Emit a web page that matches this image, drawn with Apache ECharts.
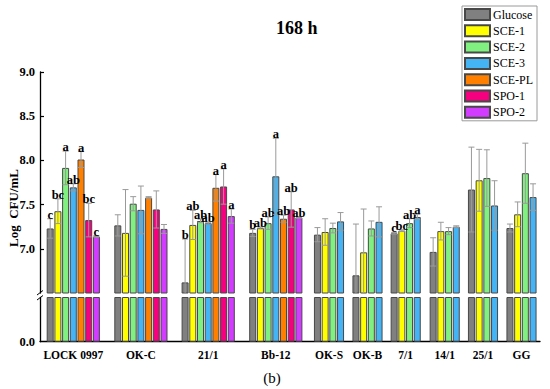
<!DOCTYPE html>
<html><head><meta charset="utf-8">
<script src="https://cdn.jsdelivr.net/npm/echarts@6/dist/echarts.min.js"></script>
<style>html,body{margin:0;padding:0;background:#fff}#c{width:550px;height:389px}</style>
</head><body><div id="c"></div>
<script>
// ---------- DATA ----------
const categories = ['LOCK 0997','OK-C','21/1','Bb-12','OK-S','OK-B','7/1','14/1','25/1','GG'];
const seriesNames = ['Glucose','SCE-1','SCE-2','SCE-3','SCE-PL','SPO-1','SPO-2'];

const glucose   = [7.23, 7.265, 6.62, 7.18, 7.16, 6.70, 7.175, 6.965, 7.67, 7.235];
const sce1      = [7.425, 7.18, 7.27, 7.235, 7.19, 6.96, 7.205, 7.20, 7.775, 7.39];
const sce2      = [7.915, 7.51, 7.315, 7.29, 7.235, 7.23, 7.29, 7.20, 7.80, 7.855];
const sce3      = [7.695, 7.44, 7.29, 7.82, 7.31, 7.305, 7.36, 7.25, 7.49, 7.585];
const scePL     = [8.01, 7.58, 7.69, 7.34, null, null, null, null, null, null];
const spo1      = [7.325, 7.445, 7.705, 7.445, null, null, null, null, null, null];
const spo2      = [7.14, 7.225, 7.37, 7.355, null, null, null, null, null, null];

const glucoseSd = [0.11, 0.12, 0.49, 0.04, 0.08, 0.58, 0.01, 0.16, 0.48, 0.045];
const sce1Sd    = [0.14, 0.49, 0.165, 0.01, 0.15, 0.49, 0.01, 0.10, 0.35, 0.14];
const sce2Sd    = [0.19, 0.08, 0.02, 0.07, 0.055, 0.085, 0.05, 0.04, 0.32, 0.34];
const sce3Sd    = [0.04, 0.27, 0.01, 0.43, 0.10, 0.17, 0.03, 0.01, 0.28, 0.15];
const scePLSd   = [0.09, 0.01, 0.15, 0.04, null, null, null, null, null, null];
const spo1Sd    = [0.19, 0.21, 0.20, 0.20, null, null, null, null, null, null];
const spo2Sd    = [0.01, 0.05, 0.08, 0.01, null, null, null, null, null, null];

const glucoseLetters = ['c','','b','b','','','c','','',''];
const sce1Letters    = ['bc','','ab','ab','','','bc','','',''];
const sce2Letters    = ['a','','ab','ab','','','ab','','',''];
const sce3Letters    = ['ab','','ab','a','','','a','','',''];
const scePLLetters   = ['a','','a','ab','','','','','',''];
const spo1Letters    = ['bc','','a','ab','','','','','',''];
const spo2Letters    = ['c','','a','ab','','','','','',''];

const upperTicks = [7.0, 7.5, 8.0, 8.5, 9.0];
const lowerTicks = [0.0];

// ---------- LAYOUT / STYLE ----------
const means = [glucose, sce1, sce2, sce3, scePL, spo1, spo2];
const sds = [glucoseSd, sce1Sd, sce2Sd, sce3Sd, scePLSd, spo1Sd, spo2Sd];
const letters = [glucoseLetters, sce1Letters, sce2Letters, sce3Letters, scePLLetters, spo1Letters, spo2Letters];
const colors = ['#808080','#ffff00','#80f080','#45b4f5','#ff8000','#f5007f','#d23cff'];
const GROUP_CENTER = [33.3, 100.9, 168.2, 235.8, 289, 327.5, 365.7, 404.7, 443, 481.5];
const BAR_PITCH = 7.7, BAR_W = 7;
const FONT = '"Liberation Serif", "Times New Roman", serif';

function barX(s, g) {
  const present = [];
  for (let k = 0; k < means.length; k++) if (means[k][g] != null) present.push(k);
  const rank = present.indexOf(s), n = present.length;
  return GROUP_CENTER[g] + (rank - (n - 1) / 2) * BAR_PITCH;
}

const series = [];
const errData = [], errLetters = [];
for (let s = 0; s < seriesNames.length; s++) {
  const d = [];
  for (let g = 0; g < categories.length; g++) {
    if (means[s][g] == null) continue;
    const x = barX(s, g);
    d.push([x, means[s][g]]);
    errData.push([x, means[s][g], sds[s][g]]);
    errLetters.push(letters[s][g]);
  }
  const style = { color: colors[s], borderColor: '#484848', borderWidth: 1 };
  series.push({ type: 'bar', name: seriesNames[s], xAxisIndex: 0, yAxisIndex: 0, barWidth: BAR_W, barGap: '-100%', clip: true, itemStyle: style, data: d, z: 2 });
  series.push({ type: 'bar', name: seriesNames[s], xAxisIndex: 1, yAxisIndex: 1, barWidth: BAR_W, barGap: '-100%', clip: true, itemStyle: style, data: d, z: 2 });
}
series.push({
  type: 'custom', xAxisIndex: 0, yAxisIndex: 0, clip: true, z: 5, data: errData,
  renderItem: function (params, api) {
    const x = api.value(0), m = api.value(1), sd = api.value(2);
    const t = api.coord([x, m + sd]), b = api.coord([x, m - sd]);
    const cw = 3, st = { stroke: '#9a9a9a', lineWidth: 1 };
    const ch = [
      { type: 'line', shape: { x1: t[0], y1: t[1], x2: b[0], y2: b[1] }, style: st },
      { type: 'line', shape: { x1: t[0] - cw, y1: t[1], x2: t[0] + cw, y2: t[1] }, style: st },
      { type: 'line', shape: { x1: b[0] - cw, y1: b[1], x2: b[0] + cw, y2: b[1] }, style: st }
    ];
    const L = errLetters[params.dataIndex];
    if (L) ch.push({ type: 'text', x: t[0], y: t[1] + 2.5, style: { text: L, textAlign: 'center', textVerticalAlign: 'bottom', font: 'bold 12.5px ' + FONT, fill: '#000' } });
    return { type: 'group', children: ch };
  }
});

const chart = echarts.init(document.getElementById('c'), null, { renderer: 'svg' });
chart.setOption({
  animation: false,
  backgroundColor: '#fff',
  title: { text: '168 h', left: 276, top: 19, padding: 0, textStyle: { fontFamily: FONT, fontWeight: 'bold', fontSize: 18, color: '#000' } },
  legend: {
    data: seriesNames, orient: 'vertical', left: 462, top: 6, icon: 'rect',
    itemWidth: 25, itemHeight: 11, itemGap: 3.3, padding: [2, 4, 2, 2],
    borderColor: '#9a9a9a', borderWidth: 1,
    textStyle: { fontFamily: FONT, fontSize: 12, color: '#000', padding: [0, 0, 0, -2] }
  },
  grid: [
    { left: 40, right: 10, top: 72, height: 221 },
    { left: 40, right: 10, top: 297.5, height: 44.2 }
  ],
  xAxis: [
    { gridIndex: 0, type: 'value', min: 0, max: 500, show: false },
    { gridIndex: 1, type: 'value', min: 0, max: 500,
      axisLine: { lineStyle: { color: '#000', width: 1.3 } }, axisTick: { show: false }, splitLine: { show: false },
      axisLabel: { customValues: GROUP_CENTER, formatter: v => categories[GROUP_CENTER.indexOf(v)] || '', fontFamily: FONT, fontWeight: 'bold', fontSize: 11.5, color: '#000', margin: 7 } }
  ],
  yAxis: [
    { gridIndex: 0, type: 'value', min: 6.5, max: 9, interval: 0.5, splitLine: { show: false },
      axisLine: { show: true, lineStyle: { color: '#000', width: 1.3 } },
      axisTick: { show: true, inside: true, length: 4, customValues: upperTicks, lineStyle: { color: '#000', width: 1.2 } },
      axisLabel: { customValues: upperTicks, formatter: v => v.toFixed(1), fontFamily: FONT, fontWeight: 'bold', fontSize: 12.5, color: '#000', margin: 5 } },
    { gridIndex: 1, type: 'value', min: 0, max: 0.5, splitLine: { show: false },
      axisLine: { show: true, lineStyle: { color: '#000', width: 1.3 } },
      axisTick: { show: false },
      axisLabel: { customValues: lowerTicks, formatter: v => v.toFixed(1), fontFamily: FONT, fontWeight: 'bold', fontSize: 12.5, color: '#000', margin: 5 } }
  ],
  graphic: [
    { type: 'text', x: 13, y: 208, rotation: Math.PI / 2, style: { text: 'Log  CFU/mL', textAlign: 'center', textVerticalAlign: 'middle', font: 'bold 13px ' + FONT, fill: '#000' } },
    { type: 'text', x: 272, y: 378, style: { text: '(b)', textAlign: 'center', textVerticalAlign: 'middle', font: '15px ' + FONT, fill: '#000' } },
    { type: 'line', shape: { x1: 37, y1: 295, x2: 43, y2: 290.5 }, style: { stroke: '#000', lineWidth: 1 }, z: 10 },
    { type: 'line', shape: { x1: 37, y1: 300, x2: 43, y2: 295.5 }, style: { stroke: '#000', lineWidth: 1 }, z: 10 }
  ],
  series: series
});
</script></body></html>
